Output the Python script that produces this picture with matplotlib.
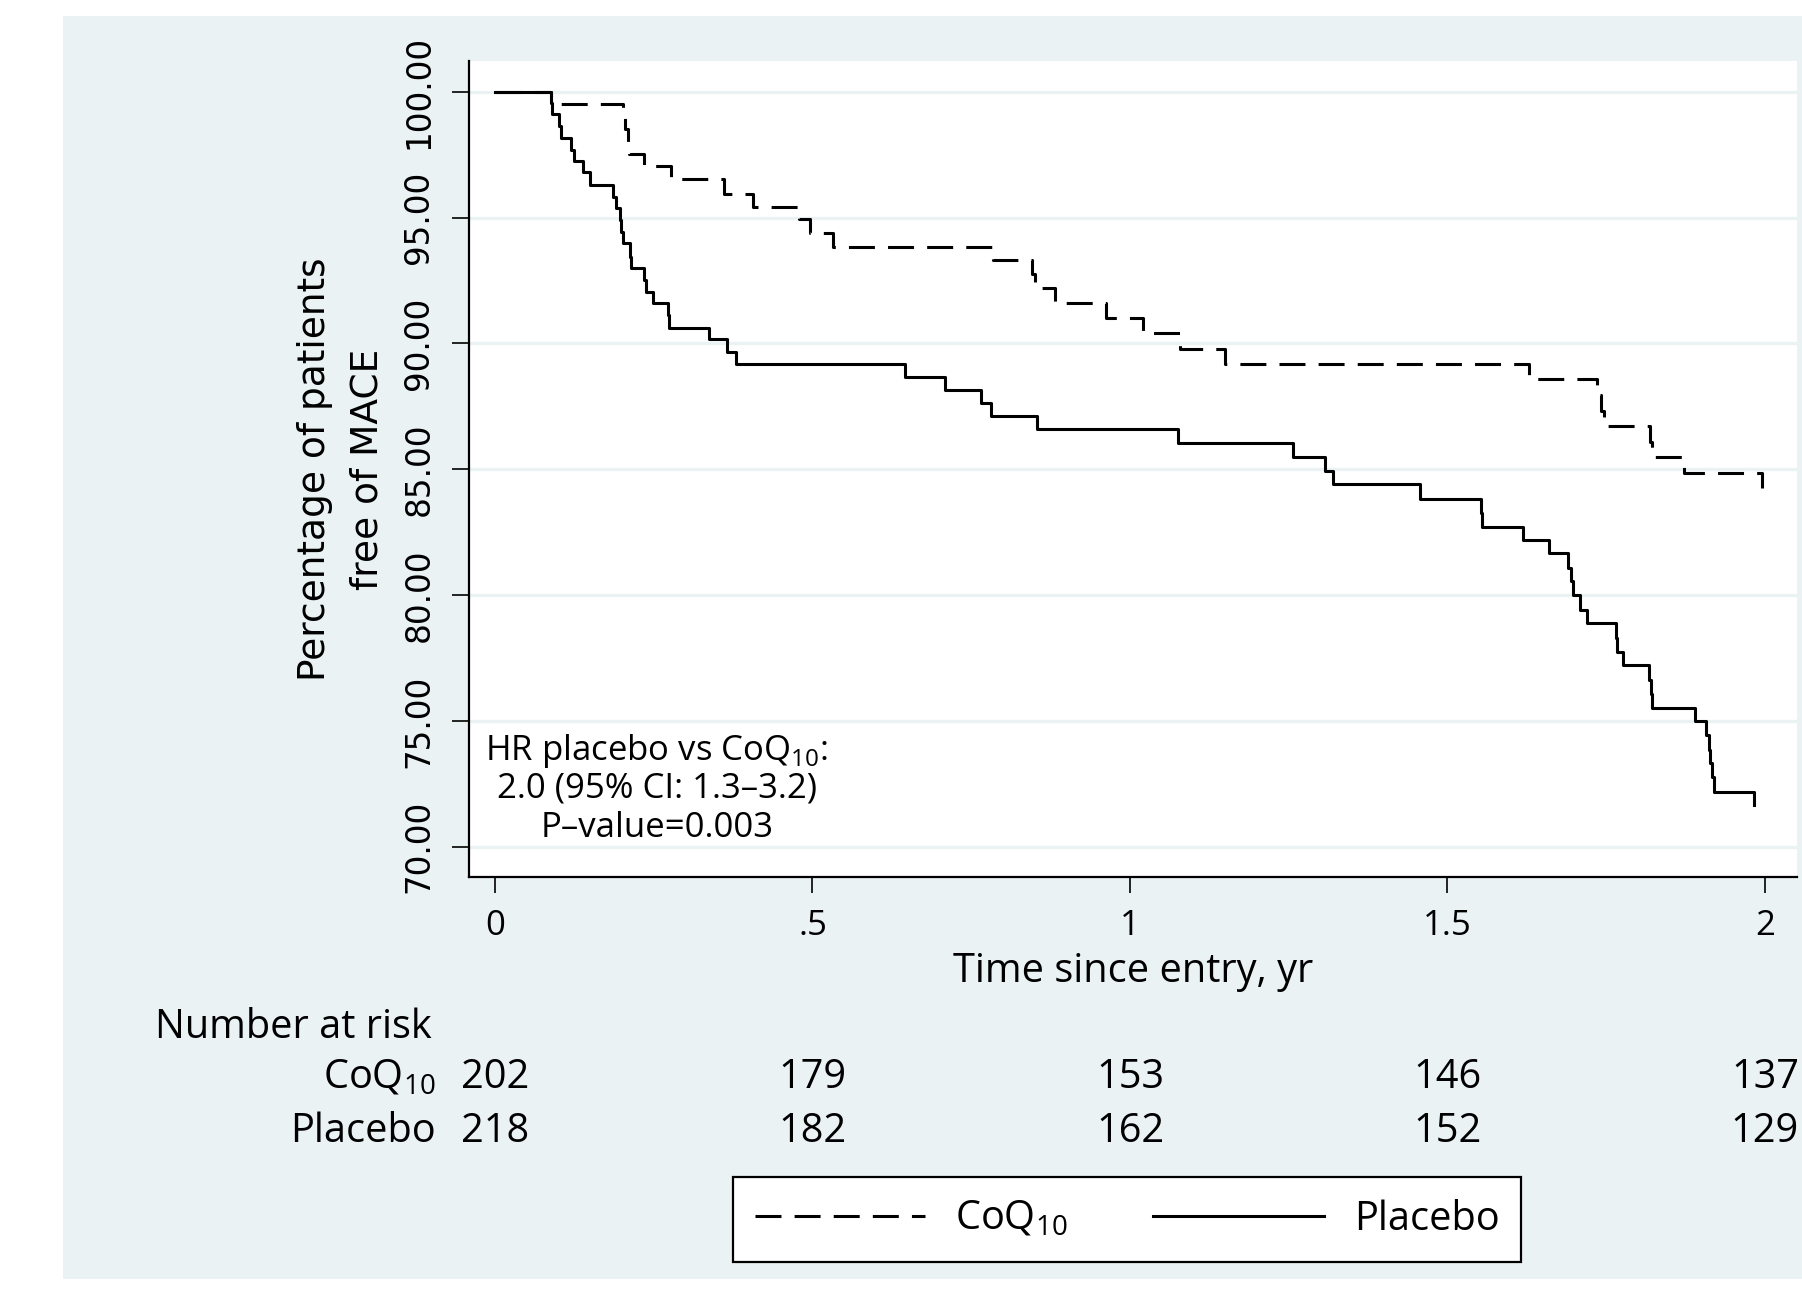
import matplotlib
matplotlib.use("Agg")
import matplotlib.pyplot as plt
from matplotlib.patches import Rectangle
from matplotlib.transforms import blended_transform_factory

# ---------------- data ----------------
coq_time = [0.000, 0.088, 0.202, 0.205, 0.209, 0.211, 0.235, 0.277, 0.360, 0.407,
            0.479, 0.496, 0.533, 0.785, 0.846, 0.850, 0.882, 0.963, 1.021, 1.079,
            1.150, 1.628, 1.736, 1.742, 1.746, 1.819, 1.822, 1.873, 1.995]
coq_surv = [100.00, 99.50, 99.00, 98.50, 98.01, 97.52, 97.04, 96.52, 95.94, 95.42,
            94.93, 94.38, 93.84, 93.31, 92.75, 92.19, 91.60, 91.00, 90.42, 89.77,
            89.20, 88.57, 87.95, 87.33, 86.72, 86.10, 85.50, 84.86, 84.24]

pla_time = [0.000, 0.088, 0.090, 0.101, 0.104, 0.120, 0.125, 0.138, 0.150, 0.186,
            0.190, 0.197, 0.199, 0.202, 0.2125, 0.214, 0.234, 0.238, 0.249, 0.272,
            0.274, 0.337, 0.366, 0.380, 0.646, 0.708, 0.765, 0.781, 0.853, 1.076,
            1.257, 1.307, 1.320, 1.457, 1.553, 1.555, 1.619, 1.660, 1.690, 1.695,
            1.698, 1.709, 1.719, 1.765, 1.767, 1.777, 1.818, 1.820, 1.822, 1.889,
            1.907, 1.912, 1.914, 1.916, 1.920, 1.982]
pla_surv = [100.00, 99.54, 99.10, 98.62, 98.16, 97.70, 97.25, 96.80, 96.30, 95.83,
            95.37, 94.90, 94.44, 93.97, 93.45, 92.98, 92.52, 92.06, 91.59, 91.13,
            90.60, 90.16, 89.67, 89.17, 88.68, 88.15, 87.64, 87.12, 86.58, 86.03,
            85.50, 84.95, 84.40, 83.83, 83.28, 82.72, 82.19, 81.66, 81.08, 80.55,
            80.00, 79.41, 78.88, 78.28, 77.75, 77.22, 76.63, 76.08, 75.50, 75.01,
            74.44, 73.85, 73.32, 72.79, 72.19, 71.66]

risk_times = [0, 0.5, 1, 1.5, 2]
risk_coq = [202, 179, 153, 146, 137]
risk_pla = [218, 182, 162, 152, 129]

y_ticks = [70, 75, 80, 85, 90, 95, 100]
x_ticks = [0, 0.5, 1, 1.5, 2]
x_tick_labels = ["0", ".5", "1", "1.5", "2"]
group_labels = [r"CoQ$_{\mathregular{10}}$", "Placebo"]
hr_lines = [r"HR placebo vs CoQ$_{\mathregular{10}}$:",
            "2.0 (95% CI: 1.3\u20133.2)",
            "P\u2013value=0.003"]

# ---------------- styling ----------------
plt.rcParams['font.family'] = ['Open Sans', 'DejaVu Sans']
BG = '#EAF2F3'
W, H = 1802, 1315


def fx(px):
    return px / W


def fy(py):
    return 1 - py / H


fig = plt.figure(figsize=(W / 100, H / 100), dpi=100, facecolor='white')
fig.add_artist(Rectangle((fx(63), fy(1279)), fx(1802) - fx(63), fy(16) - fy(1279),
                         transform=fig.transFigure, facecolor=BG, edgecolor='none',
                         zorder=-10))

ax_l, ax_r, ax_t, ax_b = 469, 1797, 61, 877
ax = fig.add_axes([fx(ax_l), fy(ax_b), fx(ax_r) - fx(ax_l), fy(ax_t) - fy(ax_b)])
ax.set_facecolor('white')

lw = 2.2
l_coq, = ax.step(coq_time, coq_surv, where='post', color='black', lw=lw,
                 ls=(0, (8.5, 4.3)), dash_capstyle='butt')
l_pla, = ax.step(pla_time, pla_surv, where='post', color='black', lw=lw)

ax.set_xlim(-0.0409, 2.0504)
ax.set_ylim(68.80, 101.22)

ax.set_yticks(y_ticks)
ax.set_yticklabels([f"{v:.2f}" for v in y_ticks], fontfamily='DejaVu Sans',
                   fontsize=23.5, rotation=90, va='center')
ax.set_xticks(x_ticks)
ax.set_xticklabels(x_tick_labels, fontsize=25)
ax.tick_params(axis='y', length=12.2, width=1.2, pad=12.0, color='black')
ax.tick_params(axis='x', length=11.5, width=1.2, pad=11.2, color='black')

for s in ['top', 'right']:
    ax.spines[s].set_visible(False)
for s in ['left', 'bottom']:
    ax.spines[s].set_linewidth(1.6)
    ax.spines[s].set_color('black')

ax.yaxis.grid(True, color=BG, lw=2.4)
ax.xaxis.grid(False)
ax.set_axisbelow(True)

ax.set_ylabel("Percentage of patients\nfree of MACE", fontfamily='DejaVu Sans',
              fontsize=27, linespacing=1.6)
ax.yaxis.set_label_coords((386 - ax_l) / (ax_r - ax_l), 0.5)
ax.set_xlabel("Time since entry, yr", fontsize=28.6)
ax.xaxis.set_label_coords(0.5, -(951.5 - ax_b) / (ax_b - ax_t))

# HR annotation
tr = blended_transform_factory(ax.transData, fig.transFigure)
for line, yb in zip(hr_lines, [760, 797.7, 836.7]):
    ax.text(0.255, fy(yb), line, transform=tr, ha='center', va='baseline',
            fontsize=25)

# Number at risk table
fs = 28.6
fig.text(fx(155), fy(1038), "Number at risk", ha='left', va='baseline', fontsize=fs)
fig.text(fx(436), fy(1088), group_labels[0], ha='right', va='baseline', fontsize=fs)
fig.text(fx(436), fy(1142), group_labels[1], ha='right', va='baseline', fontsize=fs)
for t, n in zip(risk_times, risk_coq):
    ax.text(t, fy(1088), str(n), transform=tr, ha='center', va='baseline',
            fontsize=fs, clip_on=False)
for t, n in zip(risk_times, risk_pla):
    ax.text(t, fy(1142), str(n), transform=tr, ha='center', va='baseline',
            fontsize=fs, clip_on=False)

# Legend
leg = fig.legend([l_coq, l_pla], group_labels, loc='center',
                 bbox_to_anchor=(fx(1127), fy(1219.5)), ncol=2, frameon=True,
                 fancybox=False, framealpha=1, edgecolor='black',
                 prop={'family': 'Open Sans', 'size': fs},
                 handlelength=4.3, handletextpad=0.75, columnspacing=2.15,
                 borderpad=0.55, borderaxespad=0)
leg.get_frame().set_linewidth(1.6)

fig.savefig('out.png', dpi=100, facecolor='white')
